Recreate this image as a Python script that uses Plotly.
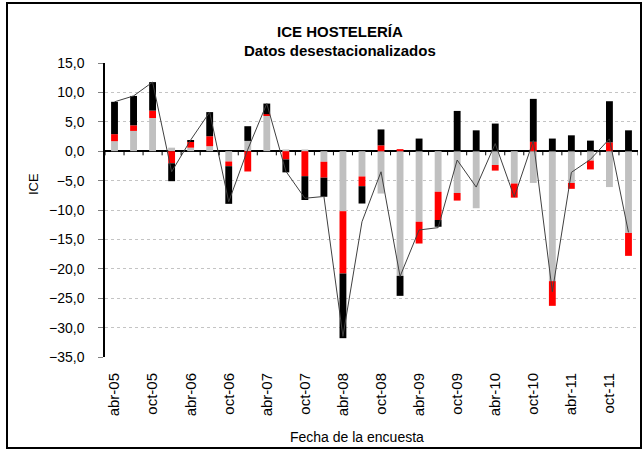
import plotly.graph_objects as go

quarters = ["abr-05", "jul-05", "oct-05", "ene-06", "abr-06", "jul-06", "oct-06", "ene-07",
            "abr-07", "jul-07", "oct-07", "ene-08", "abr-08", "jul-08", "oct-08", "ene-09",
            "abr-09", "jul-09", "oct-09", "ene-10", "abr-10", "jul-10", "oct-10", "ene-11",
            "abr-11", "jul-11", "oct-11", "ene-12"]

comp_gray = [1.7, 3.45, 5.65, 0.6, 0.6, 0.85, -1.75, 1.75, 6.1, 0.3, 0.3, -1.8, -10.2, -4.3,
             -7.2, -21.2, -12.0, -6.9, -7.1, -9.7, -2.35, -5.5, -5.4, -22.1, -5.4, -1.6, -6.1, -13.9]
comp_red = [1.2, 0.95, 1.25, -2.05, 1.0, 1.7, -0.8, -3.45, 0.2, -1.4, -4.25, -2.7, -10.6, -1.65,
            1.0, 0.35, -3.7, -4.8, -1.3, 0.0, -0.95, -2.4, 1.6, -4.2, -1.0, -1.5, 1.5, -3.9]
comp_black = [5.5, 5.0, 4.85, -3.05, 0.3, 4.1, -6.4, 2.5, 1.8, -2.2, -4.05, -3.25, -11.0, -2.95,
              2.7, -3.4, 2.15, -1.15, 6.85, 3.55, 4.7, 0.0, 7.3, 2.15, 2.7, 1.8, 7.0, 3.55]
ice_total = [8.4, 9.4, 11.75, -3.5, 1.9, 6.65, -8.6, 0.3, 8.1, -3.4, -8.0, -7.7, -31.5, -12.0,
             -3.5, -21.3, -13.4, -13.0, -1.5, -6.1, 1.3, -7.8, 1.8, -23.9, -3.6, -1.4, 2.1, -13.8]

tick_labels = quarters[::2]
y_ticks = [15, 10, 5, 0, -5, -10, -15, -20, -25, -30, -35]

x = list(range(len(quarters)))
W, H = 644, 450
ML, MR, MT, MB = 105, 6, 63, 93
PW, PH = W - ML - MR, H - MT - MB


def px_x(p):
    return (p - ML) / PW


def px_y(p):
    return (H - MB - p) / PH


FONT = "Liberation Sans, Arial, sans-serif"

fig = go.Figure()
fig.add_bar(x=x, y=comp_gray, marker=dict(color="#C0C0C0", line=dict(width=0)), name="g")
fig.add_bar(x=x, y=comp_red, marker=dict(color="#FF0000", line=dict(width=0)), name="r")
fig.add_bar(x=x, y=comp_black, marker=dict(color="#000000", line=dict(width=0)), name="b")
fig.add_scatter(x=x, y=ice_total, mode="lines", line=dict(color="#404040", width=1), name="ICE")

shapes = []
# category-axis tick marks on the zero line
for i in range(len(quarters) + 1):
    shapes.append(dict(type="line", xref="x", yref="y", x0=i - 0.5, x1=i - 0.5, y0=0, y1=-0.7,
                       line=dict(color="#000000", width=1)))
# outer frame
shapes.append(dict(type="rect", xref="paper", yref="paper", x0=px_x(7), x1=px_x(641),
                   y0=px_y(448), y1=px_y(3), line=dict(color="#000000", width=2),
                   fillcolor="rgba(0,0,0,0)", layer="above"))

annotations = [
    dict(text="<b>ICE HOSTELERÍA</b>", xref="paper", yref="paper", x=px_x(340), y=px_y(31),
         showarrow=False, font=dict(family=FONT, size=15, color="#000"), xanchor="center", yanchor="middle"),
    dict(text="<b>Datos desestacionalizados</b>", xref="paper", yref="paper", x=px_x(340), y=px_y(51),
         showarrow=False, font=dict(family=FONT, size=15, color="#000"), xanchor="center", yanchor="middle"),
    dict(text="Fecha de la encuesta", xref="paper", yref="paper", x=px_x(357), y=px_y(437),
         showarrow=False, font=dict(family=FONT, size=14, color="#000"), xanchor="center", yanchor="middle"),
    dict(text="ICE", xref="paper", yref="paper", x=px_x(33), y=px_y(184), textangle=-90,
         showarrow=False, font=dict(family=FONT, size=13, color="#000"), xanchor="center", yanchor="middle"),
]

fig.update_layout(
    width=W, height=H,
    margin=dict(l=ML, r=MR, t=MT, b=MB, pad=0),
    paper_bgcolor="#FFFFFF", plot_bgcolor="#FFFFFF",
    barmode="relative", bargap=0.64,
    showlegend=False,
    separators=",.",
    font=dict(family=FONT, size=13, color="#000"),
    shapes=shapes,
    annotations=annotations,
    xaxis=dict(range=[-0.5, len(quarters) - 0.5], tickmode="array", tickvals=x[::2],
               ticktext=tick_labels, tickangle=-90, ticks="", showgrid=False, zeroline=False,
               showline=False, ticklabelstandoff=12, tickfont=dict(size=15)),
    yaxis=dict(range=[-35, 15], tickmode="array", tickvals=y_ticks, tickformat=".1f",
               showgrid=True, gridcolor="#C4C4C4", griddash="dot", gridwidth=1,
               zeroline=True, zerolinecolor="#000000", zerolinewidth=2,
               showline=True, linecolor="#000000", linewidth=1.5,
               ticks="outside", ticklen=5, tickcolor="#808080", ticklabelstandoff=11,
               tickfont=dict(size=14)),
)

fig.write_html("out.html", config={"displayModeBar": False},
               post_script="document.body.style.margin='0';document.body.style.overflow='hidden';")
